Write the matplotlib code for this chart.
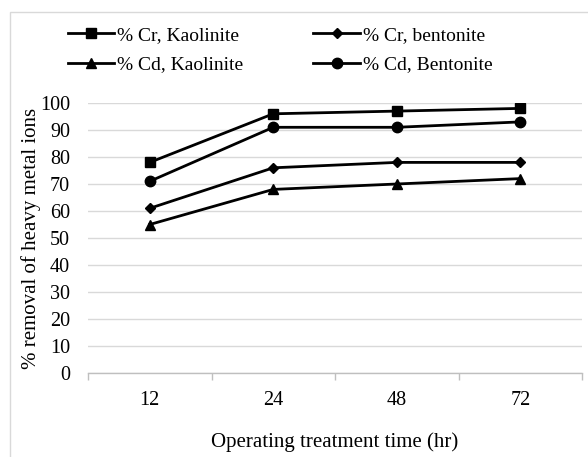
import matplotlib.pyplot as plt
from matplotlib.patches import Rectangle

plt.rcParams['font.family'] = ['Liberation Serif', 'DejaVu Serif']

times = ['12', '24', '48', '72']
cr_kaolinite = [78, 96, 97, 98]
cr_bentonite = [61, 76, 78, 78]
cd_kaolinite = [55, 68, 70, 72]
cd_bentonite = [71, 91, 91, 93]

W, H = 588, 457
fig = plt.figure(figsize=(W / 100, H / 100), dpi=100)

# light frame round the whole chart
fig.patches.append(Rectangle((10 / W, -0.1), 1.1, 1 - 12 / H + 0.1, transform=fig.transFigure,
                             fill=False, edgecolor='#d9d9d9', linewidth=1))

ax = fig.add_axes([88 / W, 1 - 373 / H, (582 - 88) / W, (373 - 103) / H])

x = range(len(times))
style = dict(color='black', linewidth=2, markersize=7.5)
h1, = ax.plot(x, cr_kaolinite, marker='s', label='% Cr, Kaolinite', **style)
h2, = ax.plot(x, cr_bentonite, marker='D', markersize=5.5, color='black', linewidth=2,
              label='% Cr, bentonite')
h3, = ax.plot(x, cd_kaolinite, marker='^', label='% Cd, Kaolinite', **style)
h4, = ax.plot(x, cd_bentonite, marker='o', label='% Cd, Bentonite', **style)

ax.set_xlim(-0.5, 3.5)
ax.set_ylim(0, 100)
ax.set_yticks(range(0, 101, 10))
ax.set_xticks(list(x))
ax.set_xticklabels(times)
ax.set_xticks([-0.5, 0.5, 1.5, 2.5, 3.5], minor=True)
ax.tick_params(axis='x', which='major', length=0, pad=13, labelsize=14.5)
ax.tick_params(axis='x', which='minor', length=5, color='#bfbfbf', width=1, direction='out')
ax.tick_params(axis='y', length=0, pad=13, labelsize=14.5)

ax.grid(axis='y', color='#d9d9d9', linewidth=1)
ax.set_axisbelow(True)
for side in ['left', 'right', 'top']:
    ax.spines[side].set_visible(False)
ax.spines['bottom'].set_color('#bfbfbf')
ax.spines['bottom'].set_linewidth(1)

ax.set_xlabel('Operating treatment time (hr)', fontsize=15, labelpad=16)
ax.set_ylabel('% removal of heavy metal ions', fontsize=15, labelpad=-1)

fig.legend([h1, h3, h2, h4], [h1.get_label(), h3.get_label(), h2.get_label(), h4.get_label()],
           ncol=2, loc='upper left', bbox_to_anchor=(50 / W, 1 - 9 / H), frameon=False,
           fontsize=14, handlelength=2.4, columnspacing=3.6, labelspacing=0.6, handletextpad=0.15)

fig.savefig('out.png', dpi=100)
